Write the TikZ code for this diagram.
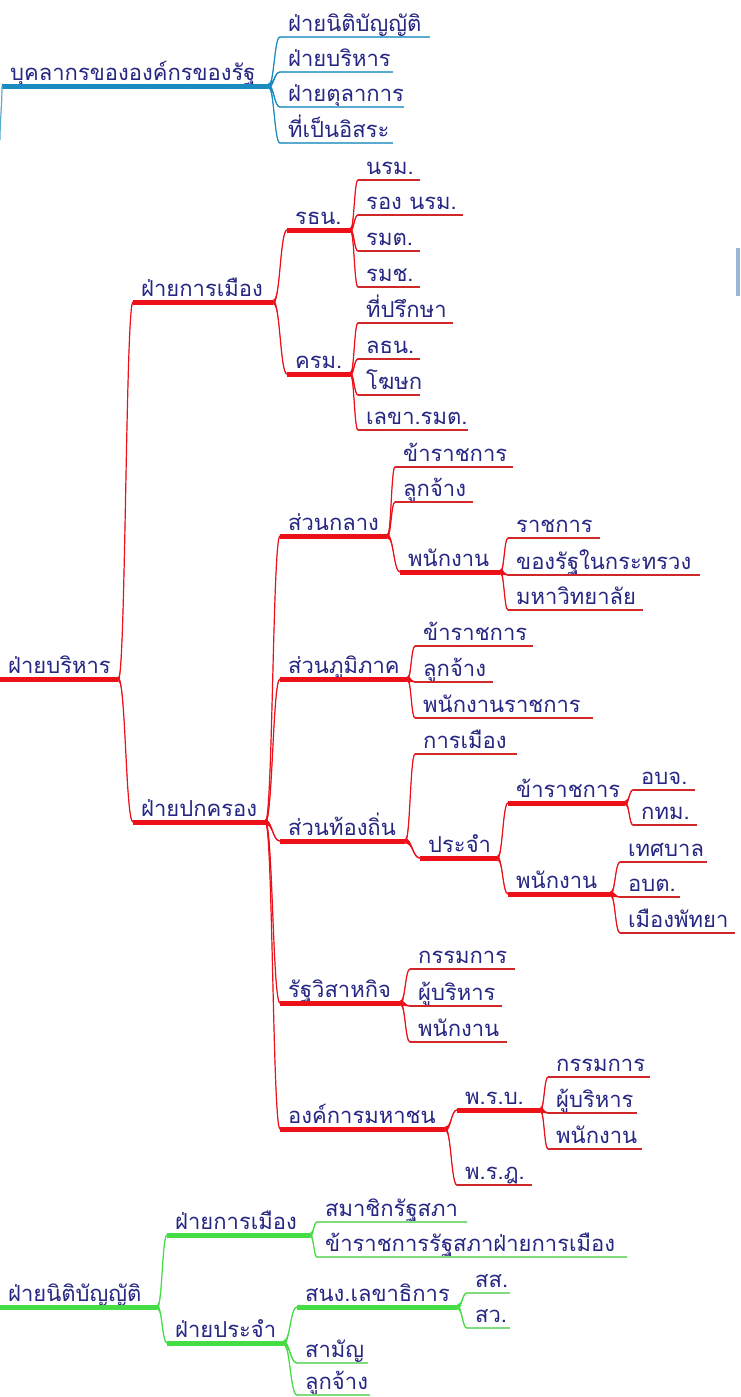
\documentclass[tikz,border=0pt]{standalone}
\usepackage{fontspec}
\setmainfont[Script=Thai]{Loma}
\usetikzlibrary{calc}
\definecolor{txt}{HTML}{262683}
\definecolor{rA}{HTML}{EC1018}
\definecolor{rB}{HTML}{D02828}
\definecolor{bA}{HTML}{1A8CC0}
\definecolor{bB}{HTML}{58ACD0}
\definecolor{gA}{HTML}{44DD44}
\definecolor{gB}{HTML}{7FDC7F}
\definecolor{barc}{HTML}{9BB7D6}
\tikzset{
  lbl/.style={inner sep=0pt, text depth=5pt, text height=17pt, align=left,
    font=\fontsize{22}{26}\selectfont, text=txt, anchor=south west},
  rthick/.style={rA, line width=5pt},
  rthin/.style={rB, line width=1.2pt},
  bthick/.style={bA, line width=5pt},
  bthin/.style={bB, line width=1.2pt},
  gthick/.style={gA, line width=5pt},
  gthin/.style={gB, line width=1.2pt},
}
% #1 name, #2 underline style, #3 x start, #4 y, #5 x end, #6 text
\newcommand\mm[6]{%
  \pgfmathsetmacro\mytw{#5-#3}%
  \node[lbl, text width=\mytw pt] (#1) at (#3,#4) {\hspace*{8pt}\mbox{#6}};
  \draw[#2] (#1.south west) -- (#1.south east);
}
% #1 colour, #2 parent, #3 child
\newcommand\cc[3]{%
  \fill[#1] let \p1=(#2.south east), \p2=(#3.south west), \n1={0.5*(\x2-\x1)} in
    (\x1,\y1+2.5pt) .. controls +(\n1,0) and +(-\n1,0) .. (\x2,\y2+0.6pt)
    -- (\x2,\y2-0.6pt) .. controls +(-\n1,0) and +(\n1,0) .. (\x1,\y1-2.5pt) -- cycle;
  \draw[#1, line width=1.2pt] let \p1=(#2.south east), \p2=(#3.south west), \n1={0.5*(\x2-\x1)} in
    (\x1,\y1) .. controls +(\n1,0) and +(-\n1,0) .. (\x2,\y2);
}
\begin{document}
\begin{tikzpicture}[x=1pt,y=-1pt]
\useasboundingbox[fill=white] (0,0) rectangle (740,1397);
% right bar
\fill[barc] (736,248) rectangle (740,296);

% ---------------- blue ----------------
\mm{b0}{bthick}{2}{86}{268}{บุคลากรขององค์กรของรัฐ}
\mm{b1}{bthin}{280}{37}{430}{ฝ่ายนิติบัญญัติ}
\mm{b2}{bthin}{280}{72}{393}{ฝ่ายบริหาร}
\mm{b3}{bthin}{280}{107}{404}{ฝ่ายตุลาการ}
\mm{b4}{bthin}{280}{143}{393}{ที่เป็นอิสระ}
\foreach \c in {b1,b2,b3,b4} {\cc{bA}{b0}{\c}}
\coordinate (bstub) at (0,140);
\draw[bB, line width=1.2pt] (b0.south west) .. controls +(0,20) and +(0,-20) .. (bstub);

% ---------------- red ----------------
\mm{r0}{rthick}{0}{679}{118}{ฝ่ายบริหาร}
\mm{r1}{rthick}{133}{302}{273}{ฝ่ายการเมือง}
\mm{r2}{rthick}{133}{822}{265}{ฝ่ายปกครอง}
\cc{rA}{r0}{r1}\cc{rA}{r0}{r2}

\mm{ra}{rthick}{287}{230}{350}{รธน.}
\mm{rb}{rthick}{287}{374}{350}{ครม.}
\cc{rA}{r1}{ra}\cc{rA}{r1}{rb}
\mm{ra1}{rthin}{358}{180}{420}{นรม.}
\mm{ra2}{rthin}{358}{215}{463}{รอง นรม.}
\mm{ra3}{rthin}{358}{251}{420}{รมต.}
\mm{ra4}{rthin}{358}{287}{420}{รมช.}
\foreach \c in {ra1,ra2,ra3,ra4} {\cc{rA}{ra}{\c}}
\mm{rb1}{rthin}{358}{323}{453}{ที่ปรึกษา}
\mm{rb2}{rthin}{358}{359}{420}{ลธน.}
\mm{rb3}{rthin}{358}{395}{420}{โฆษก}
\mm{rb4}{rthin}{358}{430}{468}{เลขา.รมต.}
\foreach \c in {rb1,rb2,rb3,rb4} {\cc{rA}{rb}{\c}}

\mm{s1}{rthick}{280}{536}{387}{ส่วนกลาง}
\mm{s2}{rthick}{280}{679}{407}{ส่วนภูมิภาค}
\mm{s3}{rthick}{280}{841}{405}{ส่วนท้องถิ่น}
\mm{s4}{rthick}{280}{1003}{400}{รัฐวิสาหกิจ}
\mm{s5}{rthick}{280}{1129}{445}{องค์การมหาชน}
\foreach \c in {s1,s2,s3,s4,s5} {\cc{rA}{r2}{\c}}

\mm{s11}{rthin}{395}{467}{513}{ข้าราชการ}
\mm{s12}{rthin}{395}{502}{473}{ลูกจ้าง}
\mm{s13}{rthick}{400}{572}{500}{พนักงาน}
\foreach \c in {s11,s12,s13} {\cc{rA}{s1}{\c}}
\mm{s131}{rthin}{508}{538}{600}{ราชการ}
\mm{s132}{rthin}{508}{575}{700}{ของรัฐในกระทรวง}
\mm{s133}{rthin}{508}{610}{643}{มหาวิทยาลัย}
\foreach \c in {s131,s132,s133} {\cc{rA}{s13}{\c}}

\mm{s21}{rthin}{415}{646}{533}{ข้าราชการ}
\mm{s22}{rthin}{415}{682}{493}{ลูกจ้าง}
\mm{s23}{rthin}{415}{718}{593}{พนักงานราชการ}
\foreach \c in {s21,s22,s23} {\cc{rA}{s2}{\c}}

\mm{s31}{rthin}{415}{754}{517}{การเมือง}
\mm{s32}{rthick}{420}{858}{497}{ประจำ}
\cc{rA}{s3}{s31}\cc{rA}{s3}{s32}
\mm{s321}{rthick}{508}{803}{625}{ข้าราชการ}
\mm{s322}{rthick}{508}{894}{610}{พนักงาน}
\cc{rA}{s32}{s321}\cc{rA}{s32}{s322}
\mm{s3211}{rthin}{633}{790}{695}{อบจ.}
\mm{s3212}{rthin}{633}{825}{697}{กทม.}
\cc{rA}{s321}{s3211}\cc{rA}{s321}{s3212}
\mm{s3221}{rthin}{620}{862}{707}{เทศบาล}
\mm{s3222}{rthin}{620}{897}{680}{อบต.}
\mm{s3223}{rthin}{620}{933}{735}{เมืองพัทยา}
\foreach \c in {s3221,s3222,s3223} {\cc{rA}{s322}{\c}}

\mm{s41}{rthin}{410}{969}{515}{กรรมการ}
\mm{s42}{rthin}{410}{1006}{502}{ผู้บริหาร}
\mm{s43}{rthin}{410}{1042}{507}{พนักงาน}
\foreach \c in {s41,s42,s43} {\cc{rA}{s4}{\c}}

\mm{s51}{rthick}{457}{1110}{540}{พ.ร.บ.}
\mm{s52}{rthin}{457}{1185}{532}{พ.ร.ฎ.}
\cc{rA}{s5}{s51}\cc{rA}{s5}{s52}
\mm{s511}{rthin}{548}{1077}{650}{กรรมการ}
\mm{s512}{rthin}{548}{1113}{637}{ผู้บริหาร}
\mm{s513}{rthin}{548}{1149}{642}{พนักงาน}
\foreach \c in {s511,s512,s513} {\cc{rA}{s51}{\c}}

% ---------------- green ----------------
\mm{g0}{gthick}{0}{1307}{157}{ฝ่ายนิติบัญญัติ}
\mm{g1}{gthick}{167}{1235}{310}{ฝ่ายการเมือง}
\mm{g2}{gthick}{167}{1343}{283}{ฝ่ายประจำ}
\cc{gA}{g0}{g1}\cc{gA}{g0}{g2}
\mm{g11}{gthin}{317}{1222}{467}{สมาชิกรัฐสภา}
\mm{g12}{gthin}{317}{1257}{627}{ข้าราชการรัฐสภาฝ่ายการเมือง}
\cc{gA}{g1}{g11}\cc{gA}{g1}{g12}
\mm{g21}{gthick}{297}{1307}{457}{สนง.เลขาธิการ}
\mm{g22}{gthin}{297}{1363}{368}{สามัญ}
\mm{g23}{gthin}{297}{1395}{370}{ลูกจ้าง}
\foreach \c in {g21,g22,g23} {\cc{gA}{g2}{\c}}
\mm{g211}{gthin}{467}{1293}{510}{สส.}
\mm{g212}{gthin}{467}{1328}{510}{สว.}
\cc{gA}{g21}{g211}\cc{gA}{g21}{g212}
\end{tikzpicture}
\end{document}
